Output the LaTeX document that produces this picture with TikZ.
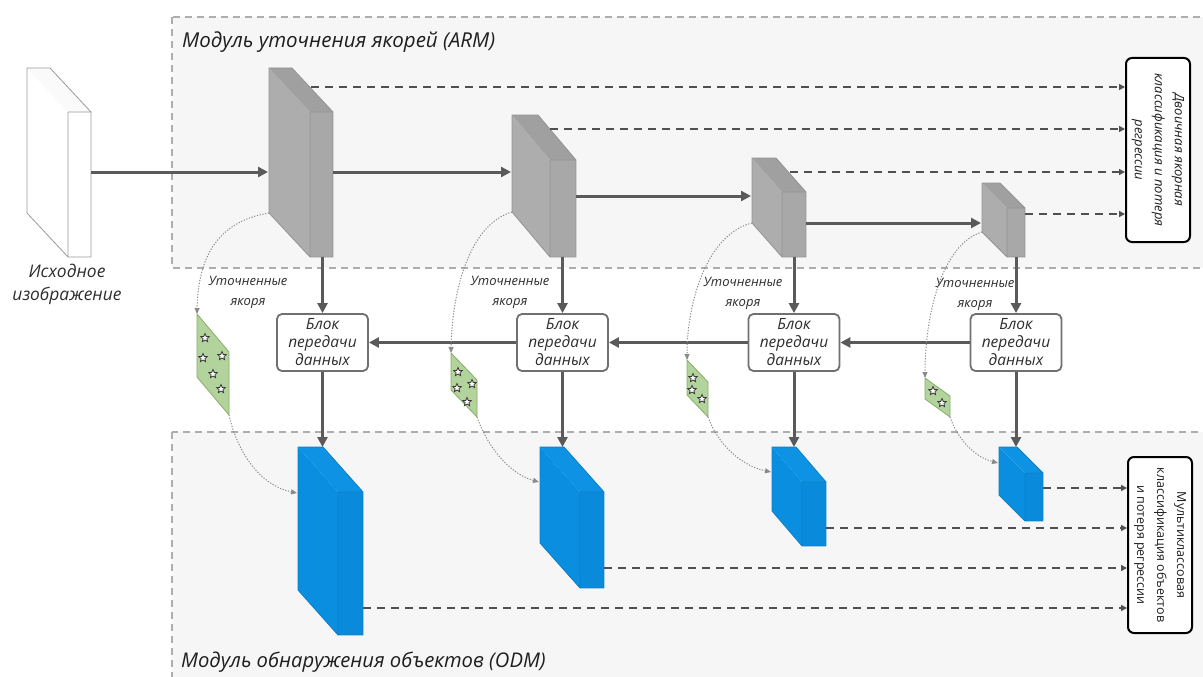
\documentclass[tikz,border=0pt]{standalone}
\usepackage{fontspec}
\setmainfont{Open Sans}
\usetikzlibrary{arrows.meta,shapes.geometric}

\definecolor{regionfill}{HTML}{F6F6F6}
\definecolor{regionline}{HTML}{ADADAD}
\definecolor{flowgray}{HTML}{5A5A5A}
\definecolor{dashgray}{HTML}{505050}
\definecolor{dotgray}{HTML}{8A8A8A}
\definecolor{boxgray}{HTML}{707070}
\definecolor{textdark}{HTML}{1E1E1E}
\definecolor{textgray}{HTML}{2E2E2E}
% feature maps of the refinement module
\definecolor{ashside}{HTML}{ADADAD}
\definecolor{ashtop}{HTML}{A0A0A0}
\definecolor{ashfront}{HTML}{A8A8A8}
\definecolor{ashedge}{HTML}{949494}
% input image
\definecolor{paperside}{HTML}{FFFFFF}
\definecolor{papertop}{HTML}{FAFAFA}
\definecolor{paperfront}{HTML}{FFFFFF}
\definecolor{paperedge}{HTML}{9A9A9A}
% feature maps of the detection module
\definecolor{skyside}{HTML}{0A8FE0}
\definecolor{skytop}{HTML}{0E93E4}
\definecolor{skyfront}{HTML}{0A8ADA}
\definecolor{skyedge}{HTML}{0C7FC8}
% anchor patches
\definecolor{leaf}{HTML}{B3D39C}
\definecolor{leafedge}{HTML}{86AD6A}
\definecolor{stardark}{HTML}{3A3A3A}

% a box seen in oblique projection:
% #1 name, (#2,#3) front top-left, (#4,#5) front bottom-right, (#6,#7) depth, #8 colour set
\newcommand{\cuboid}[8]{%
  \fill[fill=#8side] ({#2-#6},{#3-#7}) -- (#2,#3) -- (#2,#5) -- ({#2-#6},{#5-#7}) -- cycle;
  \fill[fill=#8top] ({#2-#6},{#3-#7}) -- ({#4-#6},{#3-#7}) -- (#4,#3) -- (#2,#3) -- cycle;
  \fill[fill=#8front] (#2,#3) rectangle (#4,#5);
  \draw[draw=#8edge, line width=0.8pt, line join=round]
    ({#2-#6},{#3-#7}) -- ({#4-#6},{#3-#7}) -- (#4,#3) -- (#4,#5) -- (#2,#5) -- ({#2-#6},{#5-#7}) -- cycle
    (#2,#3) -- (#4,#3) (#2,#3) -- (#2,#5);
  \coordinate (#1-s) at ({(#2+#4)/2},#5);
  \coordinate (#1-n) at ({#4-#6},{#3-#7});
  \coordinate (#1-bl) at ({#2-#6},{#5-#7});
}

% a patch of refined anchors: #1 name, #2 left x, #3 right x, #4 top y, #5 bottom y, #6 slant
\newcommand{\anchorpatch}[6]{%
  \fill[fill=leaf, draw=leafedge, line width=0.8pt, line join=round]
    (#2,#4) -- (#3,{#4+#6}) -- (#3,#5) -- (#2,{#5-#6}) -- cycle;
  \coordinate (#1-t) at (#2,#4);
  \coordinate (#1-b) at (#3,#5);
}

\begin{document}
\begin{tikzpicture}[x=1pt,y=-1pt,
  region/.style={fill=regionfill, draw=regionline, line width=1.1pt, dash pattern=on 7pt off 5pt},
  flow/.style={draw=flowgray, line width=3pt, -{Triangle[length=10pt,width=10pt]}},
  lossflow/.style={draw=dashgray, line width=2.2pt, dash pattern=on 8pt off 6pt, -{Triangle[length=6pt,width=6pt]}},
  refine/.style={draw=dotgray, line width=1pt, dash pattern=on 1.2pt off 1.6pt, -{Triangle[length=6pt,width=5pt]}},
  transfer/.style={draw=boxgray, line width=1.8pt, rounded corners=5pt, fill=white,
    minimum width=91pt, minimum height=57pt, inner sep=0pt, align=center,
    font=\fontsize{15.5}{18}\selectfont\itshape, text=textgray},
  lossbox/.style={draw=black, line width=2pt, rounded corners=6pt, fill=white, rotate=-90,
    align=center, inner sep=0pt, minimum height=64pt, text=textdark},
  modtitle/.style={anchor=west, inner sep=0pt, text=textdark},
  smalllabel/.style={align=center, inner sep=0pt, font=\fontsize{13}{20}\selectfont\itshape, text=textgray},
  starmark/.style={star, star points=5, star point ratio=2.2, draw=stardark, fill=white,
    line width=0.8pt, minimum size=9pt, inner sep=0pt},
]
\useasboundingbox (0,0) rectangle (1203,677);
\fill[white] (0,0) rectangle (1203,677);

% module regions
\path[region] (172,17) rectangle (1215,268);
\path[region] (172,432) rectangle (1215,700);
\node[modtitle, font=\fontsize{20.5}{24}\selectfont\itshape] (armtitle) at (182,42) {Модуль уточнения якорей (ARM)};
\node[modtitle, font=\fontsize{20.2}{24}\selectfont\itshape] (odmtitle) at (181,662) {Модуль обнаружения объектов (ODM)};

% input image and its label
\cuboid{in}{68}{112}{91}{257}{41}{44}{paper}
\node[align=center, inner sep=0pt, font=\fontsize{17.4}{23}\selectfont\itshape, text=textgray]
  (inlabel) at (67,284) {Исходное\\изображение};

% anchor refinement feature maps
\cuboid{g1}{310}{112}{333}{257}{41}{44}{ash}
\cuboid{g2}{550}{160}{576}{257}{38}{45}{ash}
\cuboid{g3}{782}{192}{806}{257}{30}{34}{ash}
\cuboid{g4}{1007}{208}{1025}{257}{25}{25}{ash}

% object detection feature maps
\cuboid{b1}{338}{492}{363}{635}{40}{45}{sky}
\cuboid{b2}{580}{492}{604}{588}{40}{45}{sky}
\cuboid{b3}{802}{482}{826}{546}{30}{35}{sky}
\cuboid{b4}{1025}{473}{1043}{521}{26}{26}{sky}

% loss boxes (turned clockwise, so their south side faces left)
\node[lossbox, minimum width=184pt, font=\fontsize{13}{20}\selectfont\itshape] (armloss) at (1158,150)
  {Двоичная якорная\\классификация и потеря\\регрессии};
\node[lossbox, minimum width=176pt, font=\fontsize{12.5}{20}\selectfont] (odmloss) at (1160,545)
  {Мультиклассовая\\классификация объектов\\и потеря регрессии};

% transfer connection blocks
\node[transfer] (tcb1) at (322.5,342.5) {Блок\\передачи\\данных};
\node[transfer] (tcb2) at (562.5,342.5) {Блок\\передачи\\данных};
\node[transfer] (tcb3) at (794,342.5) {Блок\\передачи\\данных};
\node[transfer] (tcb4) at (1016,342.5) {Блок\\передачи\\данных};

% refined anchor patches
\anchorpatch{p1}{197}{229}{314}{415}{38}
\anchorpatch{p2}{451}{477}{353}{417}{27}
\anchorpatch{p3}{687}{708}{360}{417}{22}
\anchorpatch{p4}{925}{950}{378}{417}{18}
\foreach \sx/\sy [count=\i] in {205/338, 203/358, 222/356, 213/374, 221/389}
  \node[starmark] (s1-\i) at (\sx,\sy) {};
\foreach \sx/\sy [count=\i] in {458/372, 457/388, 472/384, 467/402}
  \node[starmark] (s2-\i) at (\sx,\sy) {};
\foreach \sx/\sy [count=\i] in {693/378, 692/390, 702/399}
  \node[starmark] (s3-\i) at (\sx,\sy) {};
\foreach \sx/\sy [count=\i] in {933/391, 942/403}
  \node[starmark] (s4-\i) at (\sx,\sy) {};

% labels of the refined anchors
\node[smalllabel] (lab1) at (248,292) {Уточненные\\якоря};
\node[smalllabel] (lab2) at (510,292) {Уточненные\\якоря};
\node[smalllabel] (lab3) at (743,293) {Уточненные\\якоря};
\node[smalllabel] (lab4) at (975,294) {Уточненные\\якоря};

% forward path through the refinement module
\coordinate (in-out) at (91,172);
\coordinate (g1-in) at (268,172);
\coordinate (g1-out) at (333,172);
\coordinate (g2-in) at (511,172);
\coordinate (g2-out) at (576,196);
\coordinate (g3-in) at (751,196);
\coordinate (g3-out) at (806,223);
\coordinate (g4-in) at (981,223);
\draw[flow] (in-out) -- (g1-in);
\draw[flow] (g1-out) -- (g2-in);
\draw[flow] (g2-out) -- (g3-in);
\draw[flow] (g3-out) -- (g4-in);

% feature maps into the transfer blocks, and on to the detection module
\foreach \k in {1,2,3,4} {
  \draw[flow] (g\k-s -| tcb\k.north) -- (tcb\k.north);
  \draw[flow] (tcb\k.south) -- (tcb\k.south |- b\k-n);
}
% top-down path between the transfer blocks
\draw[flow] (tcb4.west) -- (tcb3.east);
\draw[flow] (tcb3.west) -- (tcb2.east);
\draw[flow] (tcb2.west) -- (tcb1.east);

% refinement losses
\coordinate (g1-loss) at (311,87);
\coordinate (g2-loss) at (550,129);
\coordinate (g3-loss) at (790,172);
\coordinate (g4-loss) at (1025,214);
\foreach \k in {1,2,3,4}
  \draw[lossflow] (g\k-loss) -- (g\k-loss -| armloss.south);

% detection losses
\coordinate (b1-loss) at (363,608);
\coordinate (b2-loss) at (604,568);
\coordinate (b3-loss) at (826,528);
\coordinate (b4-loss) at (1043,488);
\foreach \k in {1,2,3,4}
  \draw[lossflow] (b\k-loss) -- (b\k-loss -| odmloss.south);

% refined anchors: from the refinement maps to the patches, then to the detection maps
\coordinate (b1-w) at (297,493);
\coordinate (b2-w) at (539,482);
\coordinate (b3-w) at (771,472);
\coordinate (b4-w) at (998,463);
\draw[refine] (g1-bl) .. controls (214,222) and (198,262) .. (p1-t);
\draw[refine] (g2-bl) .. controls (470,224) and (452,290) .. (p2-t);
\draw[refine] (g3-bl) .. controls (708,234) and (687,300) .. (p3-t);
\draw[refine] (g4-bl) .. controls (942,244) and (925,315) .. (p4-t);
\draw[refine] (p1-b) .. controls (238,455) and (262,486) .. (b1-w);
\draw[refine] (p2-b) .. controls (488,448) and (510,474) .. (b2-w);
\draw[refine] (p3-b) .. controls (718,445) and (742,466) .. (b3-w);
\draw[refine] (p4-b) .. controls (958,440) and (975,457) .. (b4-w);
\end{tikzpicture}
\end{document}
